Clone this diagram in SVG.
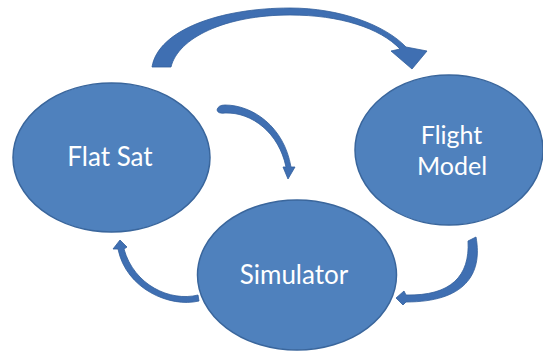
<svg xmlns="http://www.w3.org/2000/svg" width="543" height="352" viewBox="0 0 543 352">
  <style>
    .node { fill: #4F81BD; stroke: #3A669C; stroke-width: 1.5; }
    .label { fill: #FFFFFF; font-family: Lato, "Open Sans", "Liberation Sans", sans-serif; font-size: 26px; text-anchor: middle; }
    .flow { fill: #3F6FB2; stroke: #315E9C; stroke-width: 0.8; stroke-linejoin: round; }
  </style>
  <rect width="543" height="352" fill="#FFFFFF"/>

  <!-- curved block arrows between the three stages -->
  <g id="connectors">
    <!-- FlatSat to Flight Model, over the top -->
    <path class="flow" d="M152,67 C158,30 220,8 290,8 C340,8 385,25 406,47 L427,51 L412,69 L391,51 L400,49 C380,28 340,15 290,15 C225,15 178,38 171,67 Z"/>
    <!-- FlatSat to Simulator -->
    <path class="flow" d="M217,110 Q218,105 225,105 C252,105 284,126 291,167 L295,167 L288,179 L283,167 L286,167 C279,133 252,112 225,113 Q218,114 217,110 Z"/>
    <!-- Simulator back to FlatSat -->
    <path class="flow" d="M198,295 C170,302 134,285 124,249 L127,247 L120,240 L113,249 L118,249 C126,289 170,308 199,301 Z"/>
    <!-- Flight Model to Simulator -->
    <path class="flow" d="M468,241 L476,237 C483,275 464,302 406,302 L403,305 L396,298 L404,291 L406,295 C451,296 470,276 468,241 Z"/>
  </g>

  <g id="flatsat">
    <ellipse class="node" cx="111.5" cy="157.5" rx="98.5" ry="74.5"/>
    <text class="label" x="110" y="166">Flat Sat</text>
  </g>

  <g id="flight-model">
    <ellipse class="node" cx="449" cy="150" rx="94" ry="75"/>
    <text class="label" x="451.5" y="144" style="font-size:25px">Flight</text>
    <text class="label" x="452" y="175" style="font-size:25px">Model</text>
  </g>

  <g id="simulator">
    <ellipse class="node" cx="297" cy="275" rx="99.5" ry="75"/>
    <text class="label" x="294" y="284">Simulator</text>
  </g>
</svg>
